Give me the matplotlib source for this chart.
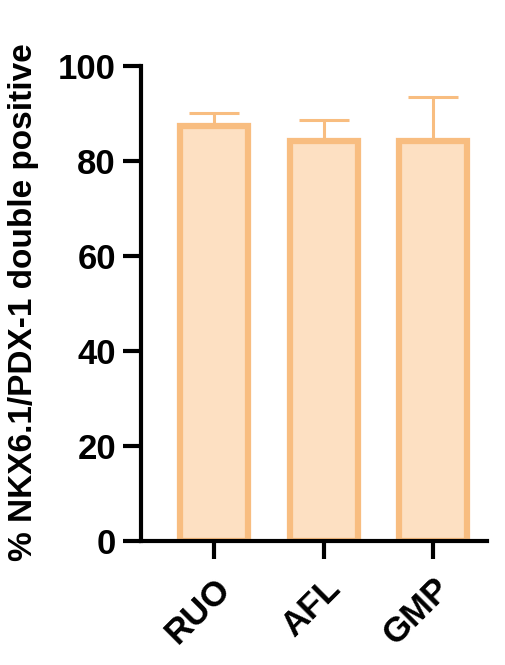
import numpy as np
import matplotlib.pyplot as plt

plt.rcParams['font.family'] = ['Liberation Sans', 'DejaVu Sans']

groups = ['RUO', 'AFL', 'GMP']
means = [87.5, 84.2, 84.2]
sd = [2.6, 4.4, 9.3]

fill = '#FDE0C2'
edge = '#F8BD80'

fig = plt.figure(figsize=(5.05, 6.65), dpi=100)
ax = fig.add_axes([0.279, 0.1865, 0.685, 0.714])

x = np.arange(len(groups))
ax.bar(x, means, width=0.62, color=fill, edgecolor=edge, linewidth=4.5, zorder=2)
ax.errorbar(x, means, yerr=[np.zeros(3), sd], fmt='none', ecolor=edge,
            elinewidth=2.2, capsize=18, capthick=2.2, zorder=1)

ax.set_xlim(-0.667, 2.49)
ax.set_ylim(0, 100)
ax.set_yticks([0, 20, 40, 60, 80, 100])
ax.set_xticks(x)
ax.set_xticklabels(groups, rotation=45, ha='right', rotation_mode='anchor')

for s in ['top', 'right']:
    ax.spines[s].set_visible(False)
for s in ['left', 'bottom']:
    ax.spines[s].set_linewidth(3)
ax.tick_params(width=3, length=13, labelsize=25, pad=5)
ax.tick_params(axis='x', pad=9)
for lab in ax.get_xticklabels() + ax.get_yticklabels():
    lab.set_fontweight('bold')

ax.set_ylabel('% NKX6.1/PDX-1 double positive', fontsize=24, fontweight='bold')
ax.yaxis.set_label_coords(-0.296, 0.503)

plt.savefig('out.png', dpi=100)
plt.close()
